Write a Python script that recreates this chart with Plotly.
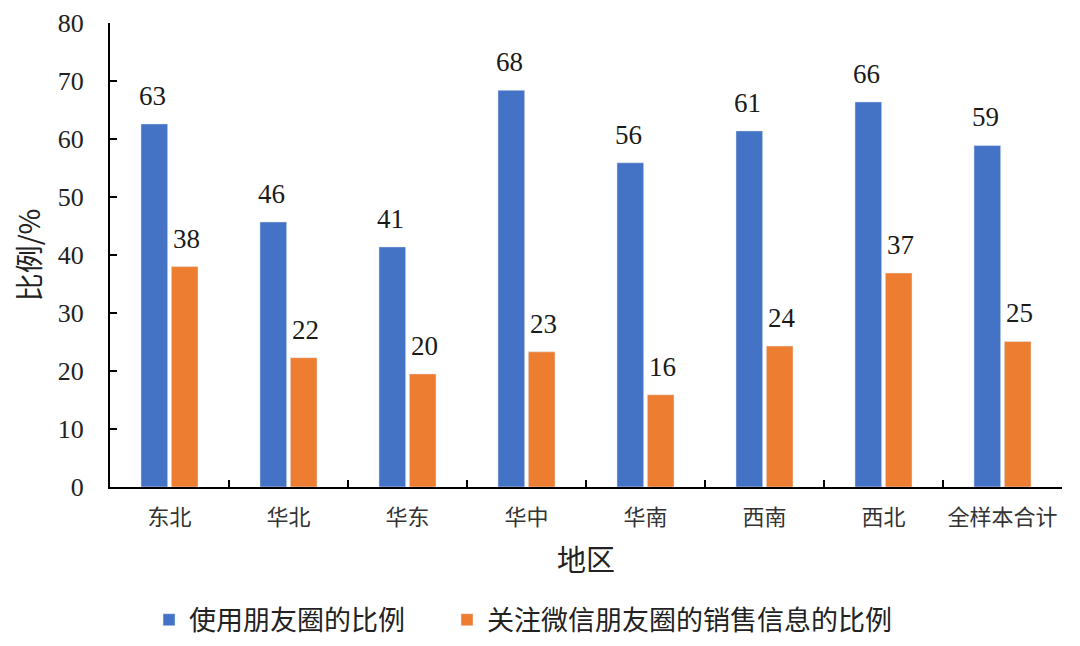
import plotly.graph_objects as go

# 数据
regioes = ['东北', '华北', '华东', '华中', '华南', '西南', '西北', '全样本合计']
uso_pyq = [62.6, 45.7, 41.4, 68.4, 55.9, 61.4, 66.4, 58.9]
foco_vendas = [38.0, 22.3, 19.5, 23.3, 15.9, 24.3, 36.9, 25.1]
nomes = ['使用朋友圈的比例', '关注微信朋友圈的销售信息的比例']
y_ticks = [0, 10, 20, 30, 40, 50, 60, 70, 80]

AZUL, LARANJA = '#4472C4', '#ED7D31'
SERIF = 'Liberation Serif'
CJK = 'Noto Sans CJK SC'

fig = go.Figure()
fig.add_trace(go.Bar(x=regioes, y=uso_pyq, name=nomes[0], marker_color=AZUL, legend='legend'))
fig.add_trace(go.Bar(x=regioes, y=foco_vendas, name=nomes[1], marker_color=LARANJA, legend='legend2'))

# rótulos dos valores acima das barras
for serie, dx in ((uso_pyq, -17), (foco_vendas, 17)):
    for reg, v in zip(regioes, serie):
        fig.add_annotation(x=reg, y=v, text=f'{v:.0f}', showarrow=False,
                           xshift=dx, yshift=11, yanchor='bottom',
                           font=dict(family=SERIF, size=27, color='#1a1a1a'))

fig.update_xaxes(
    automargin=False, tickangle=0,
    showline=True, linecolor='black', linewidth=2,
    ticks='inside', ticklen=7, tickcolor='black', tickwidth=1.5, tickson='boundaries',
    ticklabelstandoff=10,
    tickfont=dict(family=CJK, size=22, color='#333'),
    title=dict(text='地区', font=dict(family=CJK, size=29, color='#222'), standoff=20),
)
fig.update_yaxes(
    automargin=False,
    range=[0, 80], tickvals=y_ticks, showgrid=False, zeroline=False,
    showline=True, linecolor='black', linewidth=2,
    ticks='inside', ticklen=7, tickcolor='black', tickwidth=1.5,
    ticklabelstandoff=19,
    tickfont=dict(family=SERIF, size=26, color='#222'),
    title=dict(text='比例/%', font=dict(family=CJK, size=28, color='#222'), standoff=12),
)
leg = dict(orientation='h', xanchor='left', y=-0.287, yanchor='middle',
           font=dict(family=CJK, size=27, color='#222'))
fig.update_layout(
    width=1080, height=646, barmode='group', bargap=0.49, bargroupgap=0.12,
    plot_bgcolor='white', paper_bgcolor='white', showlegend=True,
    # a página tem 8px de margem no body, compensado aqui
    margin=dict(l=102, r=26, t=15, b=167, autoexpand=False),
    legend=dict(x=0.041, **leg),
    legend2=dict(x=0.354, **leg),
)

fig.write_html('out.html')
